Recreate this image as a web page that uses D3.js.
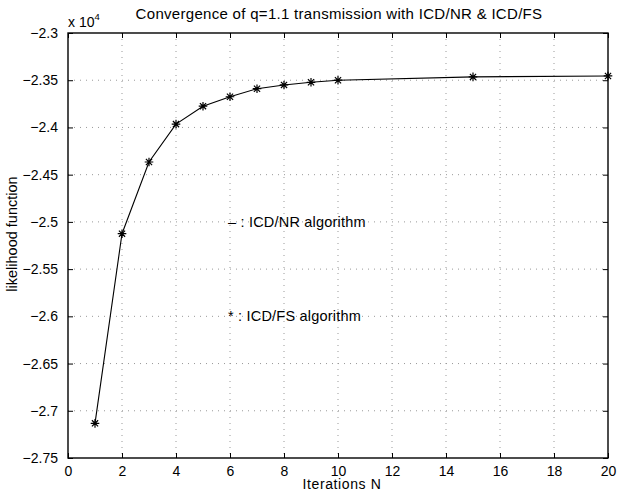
<!DOCTYPE html>
<html>
<head>
<meta charset="utf-8">
<script src="https://cdn.jsdelivr.net/npm/d3@7"></script>
<style>
  body { margin: 0; background: #fff; }
  text { font-family: "Liberation Sans", Arial, sans-serif; fill: #000; }
</style>
</head>
<body>
<div id="chart"></div>
<script>
// iterations and likelihood (in units of 1e4)
var iterations = [1, 2, 3, 4, 5, 6, 7, 8, 9, 10, 15, 20];
var likelihood = [-2.7133, -2.5125, -2.4366, -2.3965, -2.3775, -2.3675, -2.3590, -2.3550, -2.3522, -2.3500, -2.3465, -2.3455];
var xTicks = [0, 2, 4, 6, 8, 10, 12, 14, 16, 18, 20];
var yTicks = [-2.3, -2.35, -2.4, -2.45, -2.5, -2.55, -2.6, -2.65, -2.7, -2.75];
var notes = [
  { x: 6, y: -2.5, label: "\u2013 : ICD/NR algorithm" },
  { x: 6, y: -2.6, label: "* : ICD/FS algorithm" }
];

var W = 617, H = 490;
var margin = {top: 33, right: 9, bottom: 32, left: 68};
var width = W - margin.left - margin.right,
    height = H - margin.top - margin.bottom;

var svg = d3.select("#chart")
  .append("svg")
    .attr("width", W)
    .attr("height", H);

var g = svg.append("g")
  .attr("transform", "translate(" + margin.left + "," + margin.top + ")");

var x = d3.scaleLinear().domain([0, 20]).range([0, width]);
var y = d3.scaleLinear().domain([-2.75, -2.3]).range([height, 0]);

// grid
g.selectAll(".vgrid")
  .data(xTicks.slice(1, -1))
  .enter().append("line")
    .attr("x1", function(d) { return x(d); })
    .attr("x2", function(d) { return x(d); })
    .attr("y1", 0).attr("y2", height)
    .attr("stroke", "#999").attr("stroke-width", 1)
    .attr("stroke-dasharray", "1,5");

g.selectAll(".hgrid")
  .data(yTicks.slice(1, -1))
  .enter().append("line")
    .attr("y1", function(d) { return y(d); })
    .attr("y2", function(d) { return y(d); })
    .attr("x1", 0).attr("x2", width)
    .attr("stroke", "#999").attr("stroke-width", 1)
    .attr("stroke-dasharray", "1,5");

// axes (ticks inward, box on all sides)
var fmtY = function(d) { return String(d).replace("-", "\u2212"); };

var xb = g.append("g").attr("transform", "translate(0," + height + ")")
  .call(d3.axisBottom(x).tickValues(xTicks).tickSizeInner(-5).tickSizeOuter(0).tickPadding(8));
var xt = g.append("g")
  .call(d3.axisTop(x).tickValues(xTicks).tickSizeInner(-5).tickSizeOuter(0).tickFormat(""));
var yl = g.append("g")
  .call(d3.axisLeft(y).tickValues(yTicks).tickSizeInner(-5).tickSizeOuter(0).tickPadding(10).tickFormat(fmtY));
var yr = g.append("g").attr("transform", "translate(" + width + ",0)")
  .call(d3.axisRight(y).tickValues(yTicks).tickSizeInner(-5).tickSizeOuter(0).tickFormat(""));

[xb, xt, yl, yr].forEach(function(a) {
  a.select(".domain").remove();
  a.selectAll("line").attr("stroke", "#000");
  a.selectAll("text")
    .style("font-family", "'Liberation Sans', Arial, sans-serif")
    .style("font-size", "14px")
    .attr("fill", "#000");
});

g.append("rect")
  .attr("x", 0).attr("y", 0)
  .attr("width", width).attr("height", height)
  .attr("fill", "none").attr("stroke", "#000").attr("stroke-width", 1.4);

// line
var line = d3.line()
  .x(function(d, i) { return x(iterations[i]); })
  .y(function(d) { return y(d); });

g.append("path")
  .datum(likelihood)
  .attr("d", line)
  .attr("fill", "none")
  .attr("stroke", "#000")
  .attr("stroke-width", 1.1);

// asterisk markers
var r = 4.3, rd = 3.1;
var star = "M0," + (-r) + "V" + r + "M" + (-r) + ",0H" + r +
  "M" + (-rd) + "," + (-rd) + "L" + rd + "," + rd +
  "M" + (-rd) + "," + rd + "L" + rd + "," + (-rd);

g.selectAll(".mark")
  .data(likelihood)
  .enter().append("path")
    .attr("transform", function(d, i) { return "translate(" + x(iterations[i]) + "," + y(d) + ")"; })
    .attr("d", star)
    .attr("fill", "none")
    .attr("stroke", "#000")
    .attr("stroke-width", 1.2);

// notes
g.selectAll(".note")
  .data(notes)
  .enter().append("text")
    .attr("x", function(d) { return x(d.x) - 2; })
    .attr("y", function(d) { return y(d.y); })
    .attr("dy", "0.35em")
    .style("font-size", "14.5px")
    .style("letter-spacing", "0.2px")
    .text(function(d) { return d.label; });

// exponent label
var ex = svg.append("text")
  .attr("x", margin.left)
  .attr("y", 27)
  .style("font-size", "14px");
ex.append("tspan").text("x 10");
ex.append("tspan").attr("dy", -7).style("font-size", "9.5px").text("4");

// title
svg.append("text")
  .attr("x", 339)
  .attr("y", 19)
  .attr("text-anchor", "middle")
  .style("font-size", "15px")
  .style("letter-spacing", "0.3px")
  .text("Convergence of q=1.1 transmission with ICD/NR & ICD/FS");

// axis labels
svg.append("text")
  .attr("x", 342)
  .attr("y", 489)
  .attr("text-anchor", "middle")
  .style("font-size", "14px")
  .style("letter-spacing", "0.6px")
  .text("Iterations N");

svg.append("text")
  .attr("transform", "translate(17," + 234 + ") rotate(-90)")
  .attr("text-anchor", "middle")
  .style("font-size", "14.5px")
  .text("likelihood function");
</script>
</body>
</html>
